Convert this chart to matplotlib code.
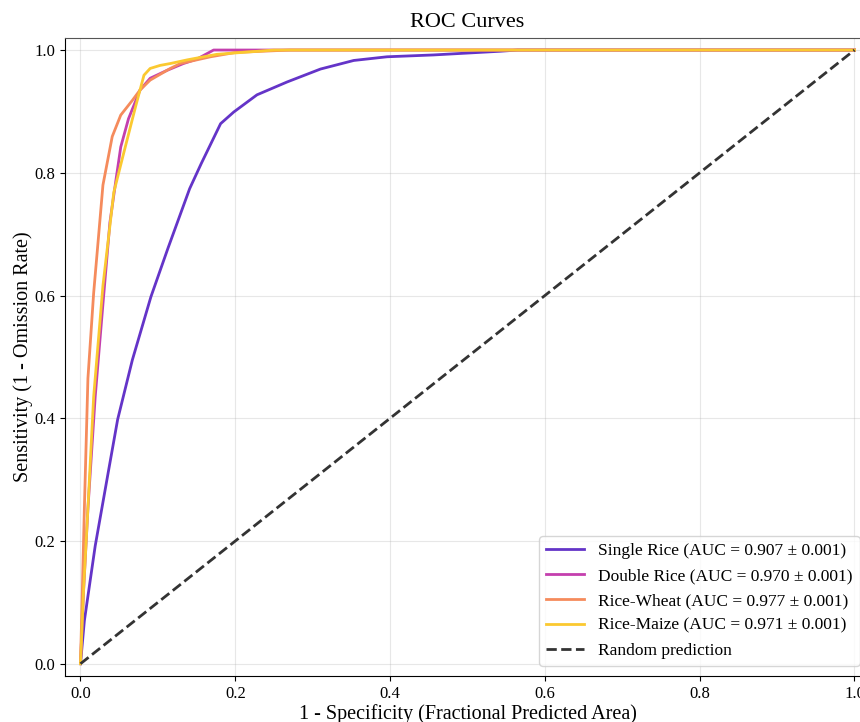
import numpy as np
import matplotlib
matplotlib.use("Agg")
import matplotlib.pyplot as plt

plt.rcParams['font.family'] = ['Liberation Serif', 'DejaVu Serif']

# ROC curves (fpr, tpr)
single_fpr = [0, 0.005, 0.019, 0.036, 0.048, 0.067, 0.091, 0.113, 0.141, 0.156, 0.181, 0.198,
              0.228, 0.267, 0.310, 0.353, 0.396, 0.456, 0.499, 0.542, 0.565, 1.0]
single_tpr = [0, 0.07, 0.192, 0.313, 0.398, 0.495, 0.598, 0.677, 0.774, 0.815, 0.880, 0.899,
              0.927, 0.948, 0.969, 0.983, 0.989, 0.992, 0.995, 0.998, 1.0, 1.0]

double_fpr = [0, 0.004, 0.0096, 0.019, 0.029, 0.038, 0.046, 0.052, 0.062, 0.077, 0.090, 0.112,
              0.133, 0.150, 0.172, 1.0]
double_tpr = [0, 0.12, 0.253, 0.435, 0.586, 0.719, 0.79, 0.842, 0.888, 0.935, 0.954, 0.967,
              0.978, 0.985, 1.0, 1.0]

wheat_fpr = [0, 0.003, 0.005, 0.0096, 0.017, 0.022, 0.029, 0.041, 0.052, 0.067, 0.077, 0.090,
             0.116, 0.129, 0.168, 0.2, 0.27, 1.0]
wheat_tpr = [0, 0.15, 0.253, 0.465, 0.604, 0.677, 0.78, 0.859, 0.894, 0.918, 0.935, 0.951,
             0.970, 0.978, 0.989, 0.996, 1.0, 1.0]

maize_fpr = [0, 0.004, 0.0096, 0.017, 0.029, 0.043, 0.055, 0.071, 0.082, 0.090, 0.103, 0.116,
             0.138, 0.176, 0.25, 1.0]
maize_tpr = [0, 0.12, 0.253, 0.435, 0.616, 0.768, 0.828, 0.907, 0.959, 0.970, 0.975, 0.978,
             0.984, 0.993, 1.0, 1.0]

names = ['Single Rice', 'Double Rice', 'Rice-Wheat', 'Rice-Maize']
aucs = [0.907, 0.970, 0.977, 0.971]
auc_std = [0.001, 0.001, 0.001, 0.001]
colors = ['#6434c8', '#c43fae', '#f58b5c', '#fbc930']
curves = [(single_fpr, single_tpr), (double_fpr, double_tpr),
          (wheat_fpr, wheat_tpr), (maize_fpr, maize_tpr)]

fig = plt.figure(figsize=(8.6, 7.22), dpi=100)
# axes run past the right edge, as in the (cropped) reference
ax = fig.add_axes([0.0756, 0.0637, 0.936, 0.884])

for (fpr, tpr), name, auc, sd, c in zip(curves, names, aucs, auc_std, colors):
    ax.plot(fpr, tpr, color=c, lw=2, label=f'{name} (AUC = {auc:.3f} ± {sd:.3f})')

ax.plot([0, 1], [0, 1], '--', color='#333333', lw=2, label='Random prediction')

ax.set_xlim(-0.02, 1.02)
ax.set_ylim(-0.02, 1.02)
ax.grid(True, alpha=0.3)
ax.tick_params(labelsize=12)
ax.spines['top'].set_color('#555555')
ax.set_xlabel('1 - Specificity (Fractional Predicted Area)', fontsize=14.5, labelpad=2)
ax.set_ylabel('Sensitivity (1 - Omission Rate)', fontsize=14.5, labelpad=1)
ax.set_title('ROC Curves', fontsize=16, pad=8)
ax.legend(loc='lower right', fontsize=12.5, borderaxespad=0.6, handlelength=2.2)

fig.savefig('out.png', dpi=100)
